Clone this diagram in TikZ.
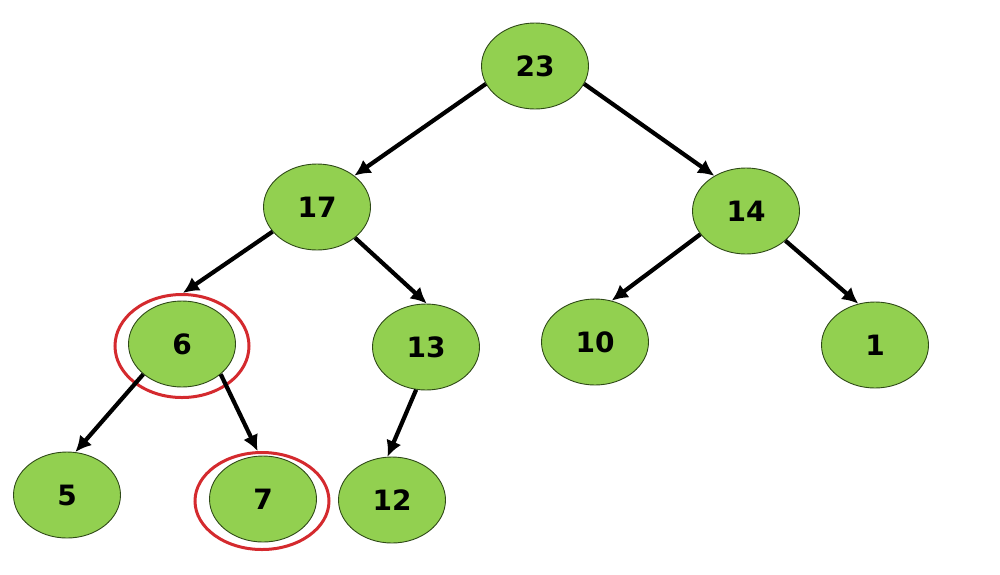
\documentclass[tikz,border=0pt]{standalone}
\usepackage{fontspec}
\setmainfont{DejaVu Sans}
\usepackage{xcolor}
\usetikzlibrary{arrows.meta}
\usetikzlibrary{shapes.geometric}

\definecolor{leafgreen}{HTML}{92D050}
\definecolor{rimgreen}{HTML}{2F4A18}
\definecolor{markred}{HTML}{D42A2E}

\begin{document}
\begin{tikzpicture}[x=1pt,y=-1pt,
 heapnode/.style={ellipse, draw=rimgreen, line width=0.9pt, fill=leafgreen,
   minimum width=107pt, minimum height=86pt, inner sep=0pt,
   font=\fontsize{28}{32}\selectfont\bfseries},
 marknode/.style={ellipse, draw=markred, line width=3pt,
   minimum width=134pt, inner sep=0pt},
 heaparrow/.style={line width=4.2pt, -{Latex[length=16pt,width=16pt]}}
]
 \useasboundingbox (0,0) rectangle (1000,574);

 %nodes:
 \node[heapnode] (n23) at (535,66) {23};
 \node[heapnode] (n17) at (317,207) {17};
 \node[heapnode] (n14) at (746,211) {14};
 \node[heapnode] (n6) at (182,344) {6};
 \node[heapnode] (n13) at (426,347) {13};
 \node[heapnode] (n10) at (595,342) {10};
 \node[heapnode] (n1) at (875,345) {1};
 \node[heapnode] (n5) at (67,495) {5};
 \node[heapnode] (n7) at (263,499) {7};
 \node[heapnode] (n12) at (392,500) {12};

 %red marks:
 \node[marknode, minimum height=103pt] (mark6) at (182,346) {};
 \node[marknode, minimum height=97pt] (mark7) at (262,501) {};

 %arrows:
 \draw[heaparrow] (n23.200) -- (n17.40);
 \draw[heaparrow] (n23.340) -- (n14.132);
 \draw[heaparrow] (n17.209) -- (mark6.89);
 \draw[heaparrow] (n17.321) -- (n13.89);
 \draw[heaparrow] (n14.207) -- (n10.68);
 \draw[heaparrow] (n14.323) -- (n1.112);
 \draw[heaparrow] (n6.218) -- (n5.79);
 \draw[heaparrow] (n6.322) -- (mark7.95);
 \draw[heaparrow] (n13.257) -- (n12.96);
\end{tikzpicture}
\end{document}
